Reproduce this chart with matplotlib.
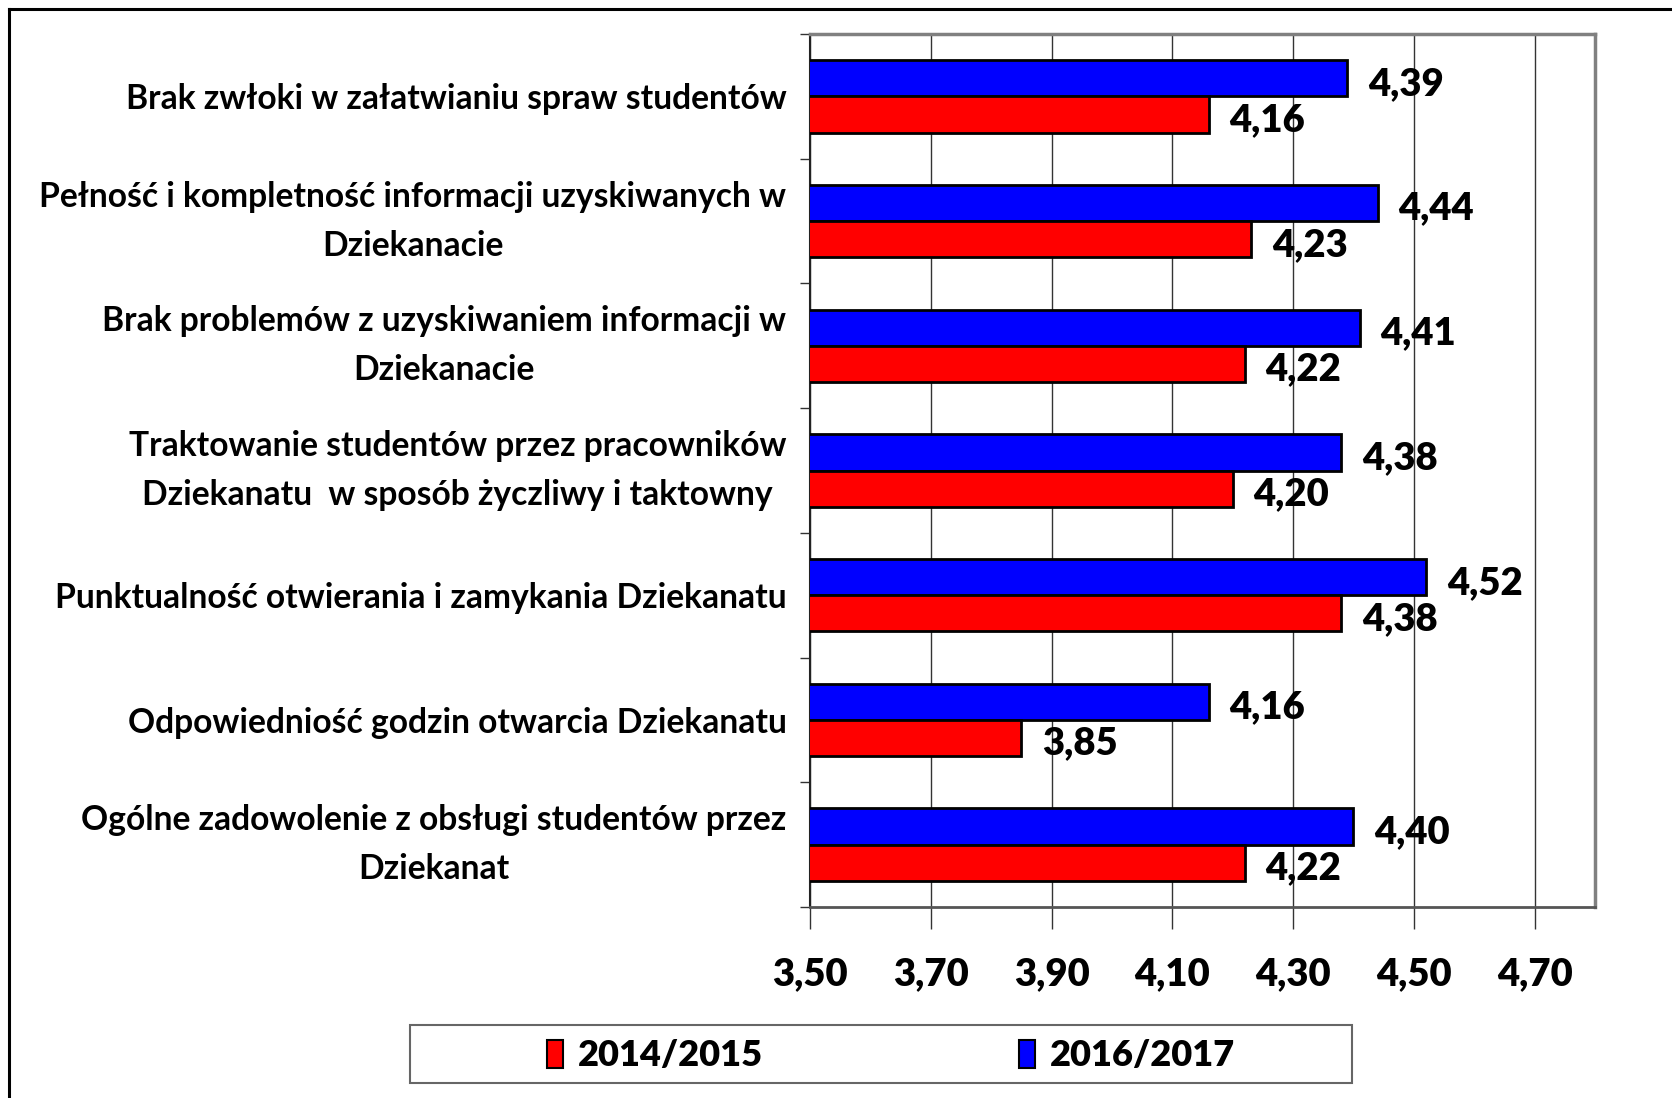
import matplotlib
matplotlib.use("Agg")
import matplotlib.pyplot as plt
from matplotlib.patches import Rectangle, Patch
from matplotlib.lines import Line2D
import numpy as np

categories = [
    "Brak zwłoki w załatwianiu spraw studentów",
    "Pełność i kompletność informacji uzyskiwanych w\nDziekanacie",
    "Brak problemów z uzyskiwaniem informacji w\nDziekanacie",
    "Traktowanie studentów przez pracowników\nDziekanatu  w sposób życzliwy i taktowny",
    "Punktualność otwierania i zamykania Dziekanatu",
    "Odpowiedniość godzin otwarcia Dziekanatu",
    "Ogólne zadowolenie z obsługi studentów przez\nDziekanat",
]
values_2016_2017 = [4.39, 4.44, 4.41, 4.38, 4.52, 4.16, 4.40]
values_2014_2015 = [4.16, 4.23, 4.22, 4.20, 4.38, 3.85, 4.22]
series_names = ["2014/2015", "2016/2017"]
x_ticks = [3.50, 3.70, 3.90, 4.10, 4.30, 4.50, 4.70]
x_tick_labels = ["3,50", "3,70", "3,90", "4,10", "4,30", "4,50", "4,70"]

FONT = ["Lato", "DejaVu Sans"]
cat_size, num_size = 24.2, 27.5
NUMW = "heavy"

plt.rcParams["font.family"] = FONT
plt.rcParams["font.weight"] = "bold"

fig = plt.figure(figsize=(16.72, 10.98), dpi=100)
ax = fig.add_axes([810 / 1672, 1 - 907 / 1098, (1595 - 810) / 1672, (907 - 34) / 1098])

y = np.arange(len(categories))
h = 0.29
b1 = ax.barh(y - h / 2, values_2016_2017, height=h, color="#0000FF",
             edgecolor="black", linewidth=2, zorder=3, label=series_names[1])
b0 = ax.barh(y + h / 2, values_2014_2015, height=h, color="#FF0000",
             edgecolor="black", linewidth=2, zorder=3, label=series_names[0])

fmt = lambda v: f"{v:.2f}".replace(".", ",")
for yy, vals in ((y - h / 2, values_2016_2017), (y + h / 2, values_2014_2015)):
    for yi, v in zip(yy, vals):
        ax.annotate(fmt(v), xy=(v, yi), xytext=(15, -4), textcoords="offset points",
                    ha="left", va="center", fontsize=num_size, fontweight=NUMW, zorder=4)

ax.set_xlim(3.5, 4.8)
ax.set_ylim(len(categories) - 0.5, -0.5)
ax.set_xticks(x_ticks)
ax.set_xticklabels(x_tick_labels, fontsize=num_size, fontweight=NUMW)
ax.tick_params(axis="x", direction="out", length=16, width=1, color="#333333", pad=20)
ax.xaxis.grid(True, color="#333333", linewidth=1, zorder=0)
ax.set_axisbelow(True)

ax.set_yticks(y)
ax.set_yticklabels(categories, fontsize=cat_size, fontweight="bold")
for t, c in zip(ax.get_yticklabels(), categories):
    t.set_multialignment("center")
    t.set_verticalalignment("center" if "\n" in c else "center_baseline")
    t.set_linespacing(1.65)
ax.tick_params(axis="y", which="major", length=0, pad=17)
ax.set_yticks(np.arange(len(categories) + 1) - 0.5, minor=True)
ax.tick_params(axis="y", which="minor", direction="out", length=7, width=1, color="#333333")

for s in ("top", "right"):
    ax.spines[s].set_color("#808080")
    ax.spines[s].set_linewidth(2.5)
ax.spines["left"].set_color("#222222")
ax.spines["left"].set_linewidth(1.5)
ax.spines["bottom"].set_color("#555555")
ax.spines["bottom"].set_linewidth(2)

# outer frame (clipped by image edge on right/bottom)
fig.add_artist(Line2D([9 / 1672, 9 / 1672], [0, 1 - 9 / 1098], transform=fig.transFigure,
                      color="black", linewidth=2.2))
fig.add_artist(Line2D([9 / 1672, 1], [1 - 9 / 1098, 1 - 9 / 1098], transform=fig.transFigure,
                      color="black", linewidth=2.2))

# legend box
fig.add_artist(Rectangle((410 / 1672, 1 - 1083 / 1098), (1352 - 410) / 1672, (1083 - 1025) / 1098,
                         transform=fig.transFigure, facecolor="white", edgecolor="#666666",
                         linewidth=1.5))
handles = [Patch(facecolor="#FF0000", edgecolor="black", linewidth=1.5),
           Patch(facecolor="#0000FF", edgecolor="black", linewidth=1.5)]
leg = fig.legend(handles, series_names, loc="center", bbox_to_anchor=(891 / 1672, 1 - 1056 / 1098),
                 ncol=2, frameon=False, prop={"size": 26, "weight": NUMW},
                 handlelength=0.45, handleheight=0.78, handletextpad=0.4, columnspacing=7.1)

fig.savefig("out.png", dpi=100)
